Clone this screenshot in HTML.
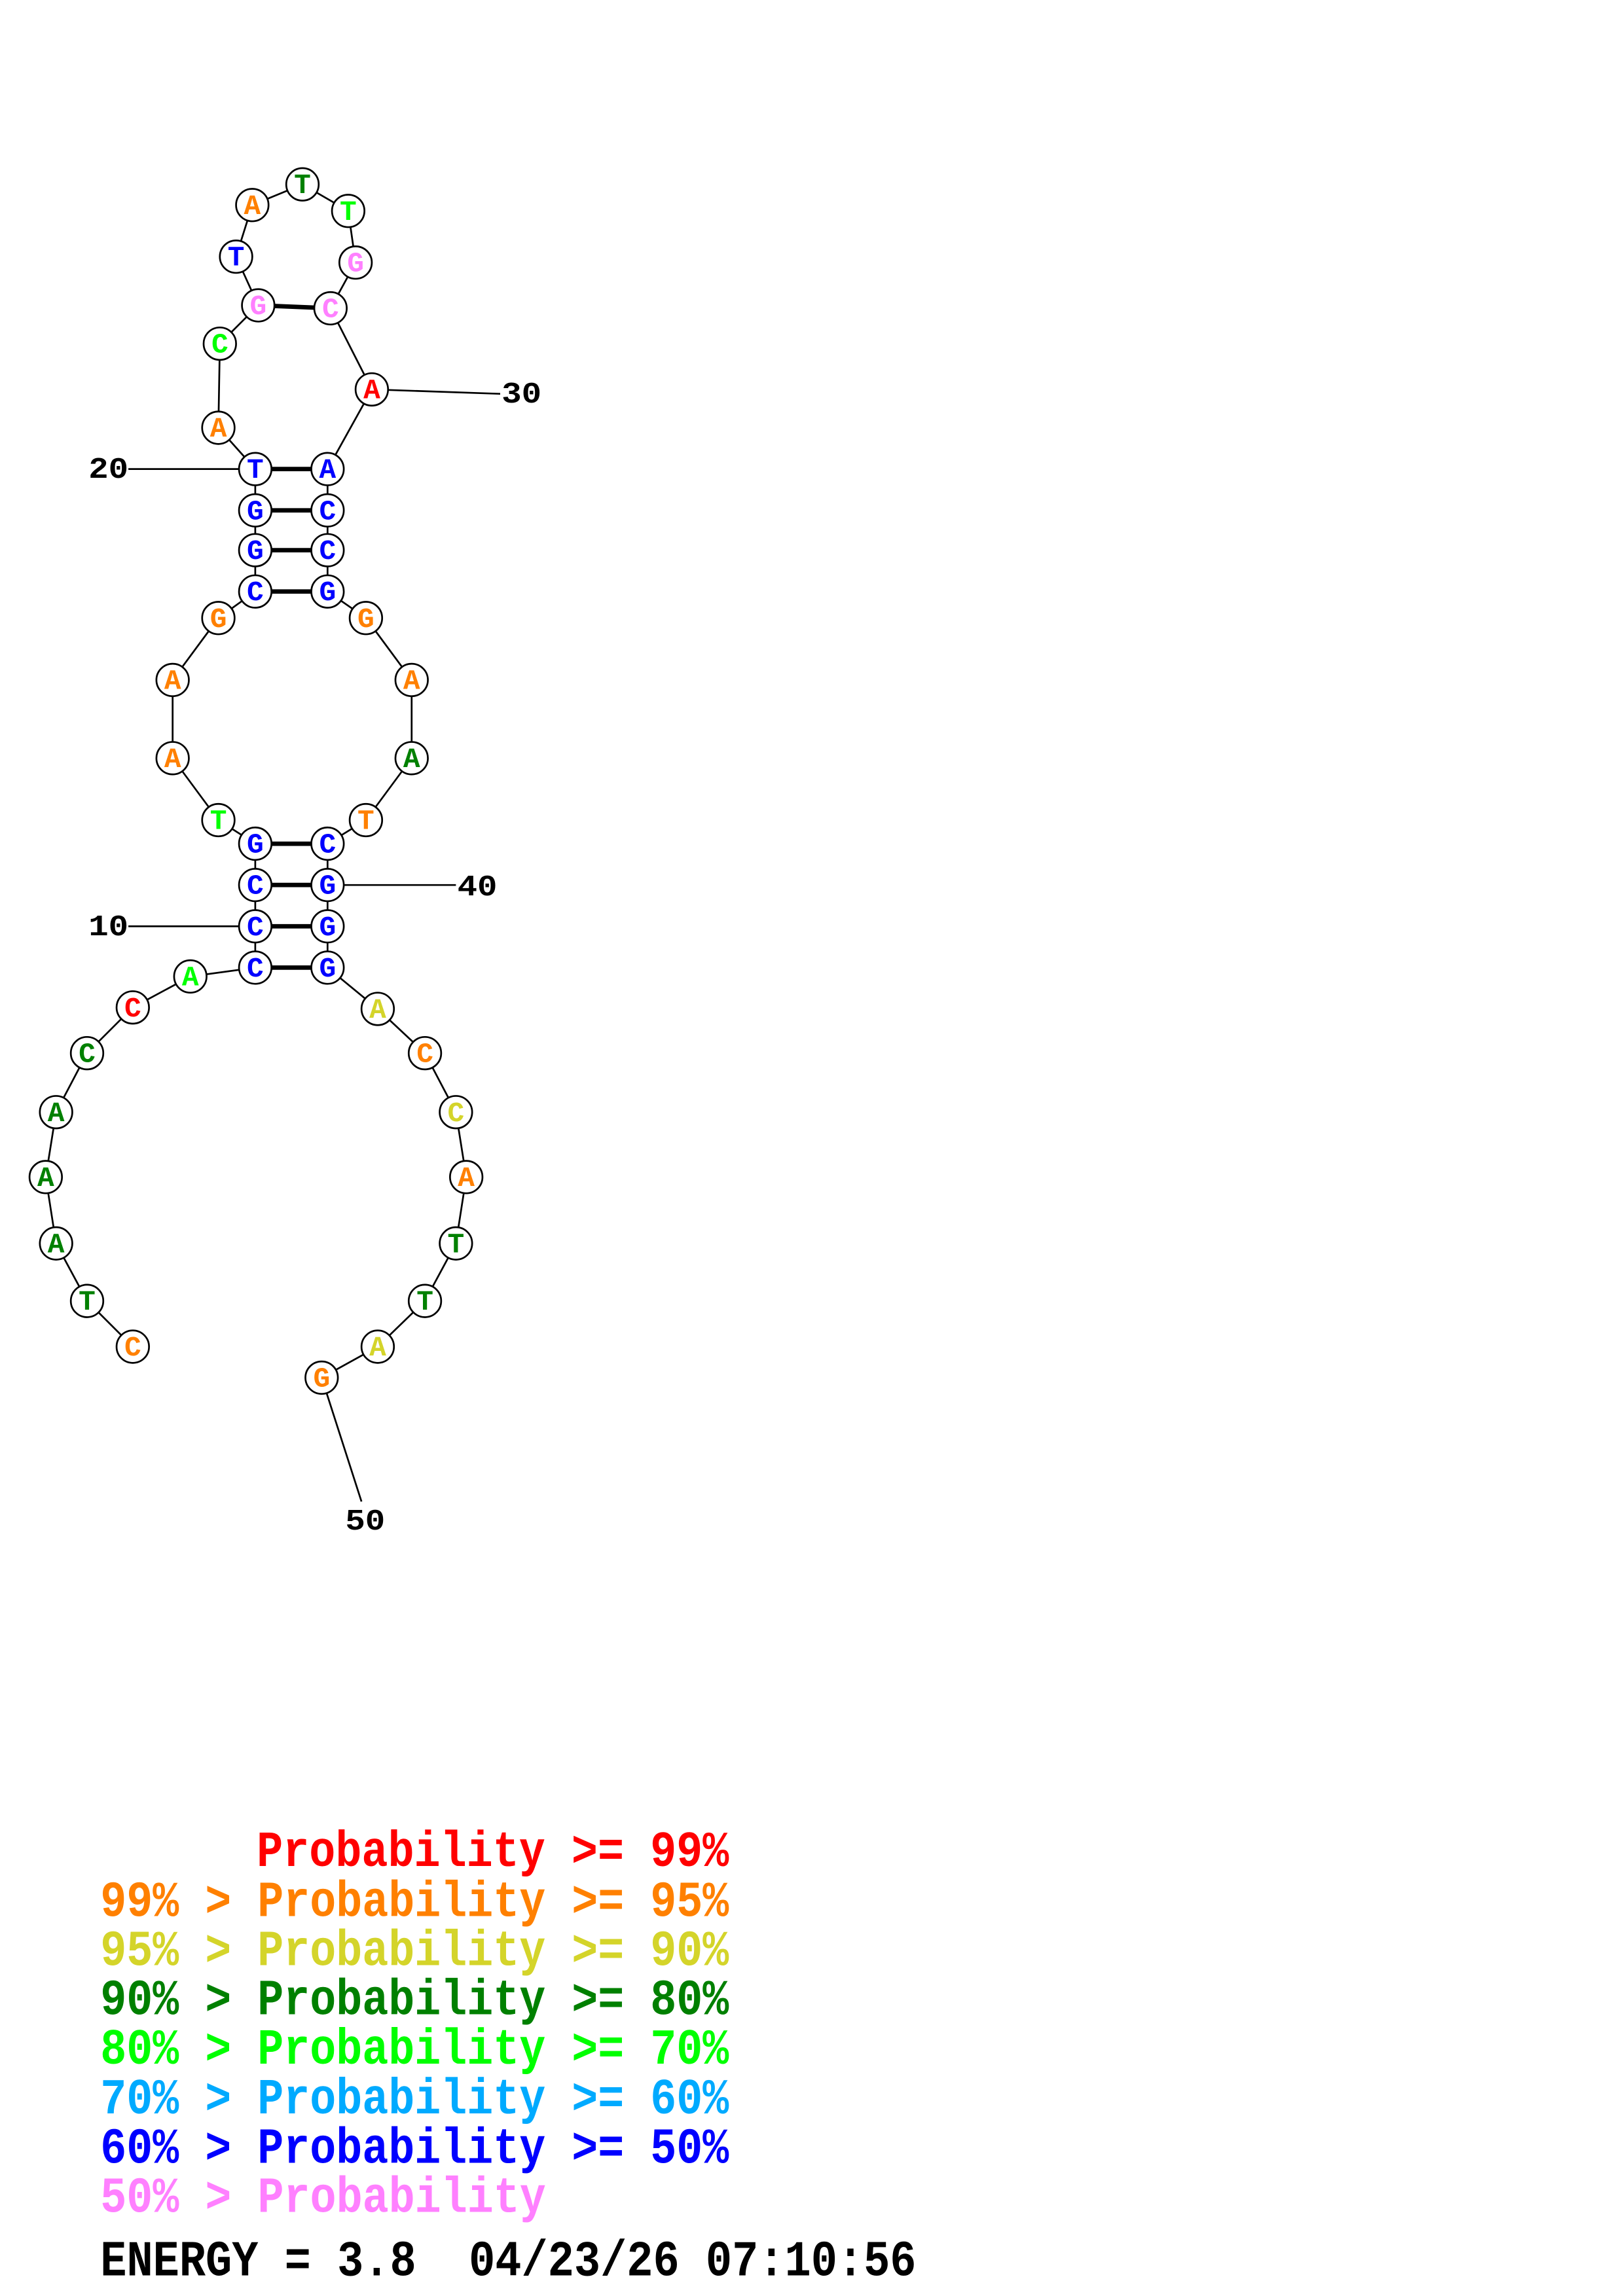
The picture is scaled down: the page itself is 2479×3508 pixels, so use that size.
<!DOCTYPE html>
<html><head><meta charset="utf-8"><style>
html,body{margin:0;padding:0;background:#fff;}
svg{display:block;}
.n{font-family:"Liberation Mono",monospace;font-weight:bold;font-size:19px;text-anchor:middle;}
.lb{font-family:"Liberation Mono",monospace;font-weight:bold;font-size:20px;}
.lg{font-family:"Liberation Mono",monospace;font-weight:bold;font-size:29.6px;}
</style></head><body>
<svg width="2479" height="3508" viewBox="0 0 1100 1556.6" xmlns="http://www.w3.org/2000/svg">
<rect width="1100" height="1556.6" fill="#fff"/>
<g stroke="#000" stroke-width="1.2" fill="none">
<polyline points="90,913 59,882 38,843 31,798 38,754 59,714 90,683 129,662 173,656 173,628 173,600 173,572 148,556 117,514 117,461 148,419 173,401 173,373 173,346 173,318 148,290 149,233 175,207 160,174 171,139 205,125 236,143 241,178 224,209 252,264 222,318 222,346 222,373 222,401 248,419 279,461 279,514 248,556 222,572 222,600 222,628 222,656 256,684 288,714 309,754 316,798 309,843 288,882 256,913 218,934"/>
<line x1="87" y1="628" x2="173" y2="628"/>
<line x1="87" y1="318" x2="173" y2="318"/>
<line x1="252" y1="264" x2="339" y2="267"/>
<line x1="222" y1="600" x2="309" y2="600"/>
<line x1="218" y1="934" x2="245" y2="1018"/>
</g>
<g stroke="#000" stroke-width="3">
<line x1="173" y1="656" x2="222" y2="656"/><line x1="173" y1="628" x2="222" y2="628"/>
<line x1="173" y1="600" x2="222" y2="600"/><line x1="173" y1="572" x2="222" y2="572"/>
<line x1="173" y1="401" x2="222" y2="401"/><line x1="173" y1="373" x2="222" y2="373"/>
<line x1="173" y1="346" x2="222" y2="346"/><line x1="173" y1="318" x2="222" y2="318"/>
<line x1="175" y1="207" x2="224" y2="209"/>
</g>
<g stroke="#000" stroke-width="1.2" fill="#fff">
<circle cx="90" cy="913" r="11"/><circle cx="59" cy="882" r="11"/><circle cx="38" cy="843" r="11"/><circle cx="31" cy="798" r="11"/><circle cx="38" cy="754" r="11"/><circle cx="59" cy="714" r="11"/><circle cx="90" cy="683" r="11"/><circle cx="129" cy="662" r="11"/><circle cx="173" cy="656" r="11"/><circle cx="173" cy="628" r="11"/><circle cx="173" cy="600" r="11"/><circle cx="173" cy="572" r="11"/><circle cx="148" cy="556" r="11"/><circle cx="117" cy="514" r="11"/><circle cx="117" cy="461" r="11"/><circle cx="148" cy="419" r="11"/><circle cx="173" cy="401" r="11"/><circle cx="173" cy="373" r="11"/><circle cx="173" cy="346" r="11"/><circle cx="173" cy="318" r="11"/><circle cx="148" cy="290" r="11"/><circle cx="149" cy="233" r="11"/><circle cx="175" cy="207" r="11"/><circle cx="160" cy="174" r="11"/><circle cx="171" cy="139" r="11"/><circle cx="205" cy="125" r="11"/><circle cx="236" cy="143" r="11"/><circle cx="241" cy="178" r="11"/><circle cx="224" cy="209" r="11"/><circle cx="252" cy="264" r="11"/><circle cx="222" cy="318" r="11"/><circle cx="222" cy="346" r="11"/><circle cx="222" cy="373" r="11"/><circle cx="222" cy="401" r="11"/><circle cx="248" cy="419" r="11"/><circle cx="279" cy="461" r="11"/><circle cx="279" cy="514" r="11"/><circle cx="248" cy="556" r="11"/><circle cx="222" cy="572" r="11"/><circle cx="222" cy="600" r="11"/><circle cx="222" cy="628" r="11"/><circle cx="222" cy="656" r="11"/><circle cx="256" cy="684" r="11"/><circle cx="288" cy="714" r="11"/><circle cx="309" cy="754" r="11"/><circle cx="316" cy="798" r="11"/><circle cx="309" cy="843" r="11"/><circle cx="288" cy="882" r="11"/><circle cx="256" cy="913" r="11"/><circle cx="218" cy="934" r="11"/>
</g>
<g class="n">
<text x="90" y="919" fill="#ff8000">C</text>
<text x="59" y="888" fill="#008000">T</text>
<text x="38" y="849" fill="#008000">A</text>
<text x="31" y="804" fill="#008000">A</text>
<text x="38" y="760" fill="#008000">A</text>
<text x="59" y="720" fill="#008000">C</text>
<text x="90" y="689" fill="#ff0000">C</text>
<text x="129" y="668" fill="#00ff00">A</text>
<text x="173" y="662" fill="#0000ff">C</text>
<text x="173" y="634" fill="#0000ff">C</text>
<text x="173" y="606" fill="#0000ff">C</text>
<text x="173" y="578" fill="#0000ff">G</text>
<text x="148" y="562" fill="#00ff00">T</text>
<text x="117" y="520" fill="#ff8000">A</text>
<text x="117" y="467" fill="#ff8000">A</text>
<text x="148" y="425" fill="#ff8000">G</text>
<text x="173" y="407" fill="#0000ff">C</text>
<text x="173" y="379" fill="#0000ff">G</text>
<text x="173" y="352" fill="#0000ff">G</text>
<text x="173" y="324" fill="#0000ff">T</text>
<text x="148" y="296" fill="#ff8000">A</text>
<text x="149" y="239" fill="#00ff00">C</text>
<text x="175" y="213" fill="#ff80ff">G</text>
<text x="160" y="180" fill="#0000ff">T</text>
<text x="171" y="145" fill="#ff8000">A</text>
<text x="205" y="131" fill="#008000">T</text>
<text x="236" y="149" fill="#00ff00">T</text>
<text x="241" y="184" fill="#ff80ff">G</text>
<text x="224" y="215" fill="#ff80ff">C</text>
<text x="252" y="270" fill="#ff0000">A</text>
<text x="222" y="324" fill="#0000ff">A</text>
<text x="222" y="352" fill="#0000ff">C</text>
<text x="222" y="379" fill="#0000ff">C</text>
<text x="222" y="407" fill="#0000ff">G</text>
<text x="248" y="425" fill="#ff8000">G</text>
<text x="279" y="467" fill="#ff8000">A</text>
<text x="279" y="520" fill="#008000">A</text>
<text x="248" y="562" fill="#ff8000">T</text>
<text x="222" y="578" fill="#0000ff">C</text>
<text x="222" y="606" fill="#0000ff">G</text>
<text x="222" y="634" fill="#0000ff">G</text>
<text x="222" y="662" fill="#0000ff">G</text>
<text x="256" y="690" fill="#d4d42a">A</text>
<text x="288" y="720" fill="#ff8000">C</text>
<text x="309" y="760" fill="#d4d42a">C</text>
<text x="316" y="804" fill="#ff8000">A</text>
<text x="309" y="849" fill="#008000">T</text>
<text x="288" y="888" fill="#008000">T</text>
<text x="256" y="919" fill="#d4d42a">A</text>
<text x="218" y="940" fill="#ff8000">G</text>
</g>
<g class="lb" fill="#000">
<text x="60" y="634" textLength="27" lengthAdjust="spacingAndGlyphs">10</text>
<text x="60" y="324" textLength="27" lengthAdjust="spacingAndGlyphs">20</text>
<text x="340" y="273" textLength="27" lengthAdjust="spacingAndGlyphs">30</text>
<text x="310" y="607" textLength="27" lengthAdjust="spacingAndGlyphs">40</text>
<text x="234" y="1037" textLength="27" lengthAdjust="spacingAndGlyphs">50</text>
</g>
<g class="lg" transform="scale(1,1.15)">
<text x="174" y="1100" fill="#ff0000" textLength="320" lengthAdjust="spacingAndGlyphs">Probability &gt;= 99%</text>
<text x="68" y="1129.5" fill="#ff8000" textLength="426" lengthAdjust="spacingAndGlyphs">99% &gt; Probability &gt;= 95%</text>
<text x="68" y="1158.5" fill="#d4d42a" textLength="426" lengthAdjust="spacingAndGlyphs">95% &gt; Probability &gt;= 90%</text>
<text x="68" y="1187.5" fill="#008000" textLength="426" lengthAdjust="spacingAndGlyphs">90% &gt; Probability &gt;= 80%</text>
<text x="68" y="1216.5" fill="#00ff00" textLength="426" lengthAdjust="spacingAndGlyphs">80% &gt; Probability &gt;= 70%</text>
<text x="68" y="1246" fill="#00aaff" textLength="426" lengthAdjust="spacingAndGlyphs">70% &gt; Probability &gt;= 60%</text>
<text x="68" y="1275" fill="#0000ff" textLength="426" lengthAdjust="spacingAndGlyphs">60% &gt; Probability &gt;= 50%</text>
<text x="68" y="1304" fill="#ff80ff" textLength="302" lengthAdjust="spacingAndGlyphs">50% &gt; Probability</text>
<text x="68" y="1341.5" fill="#000" textLength="553" lengthAdjust="spacingAndGlyphs" xml:space="preserve">ENERGY = 3.8  04/23/26 07:10:56</text>
</g>
</svg>
</body></html>
